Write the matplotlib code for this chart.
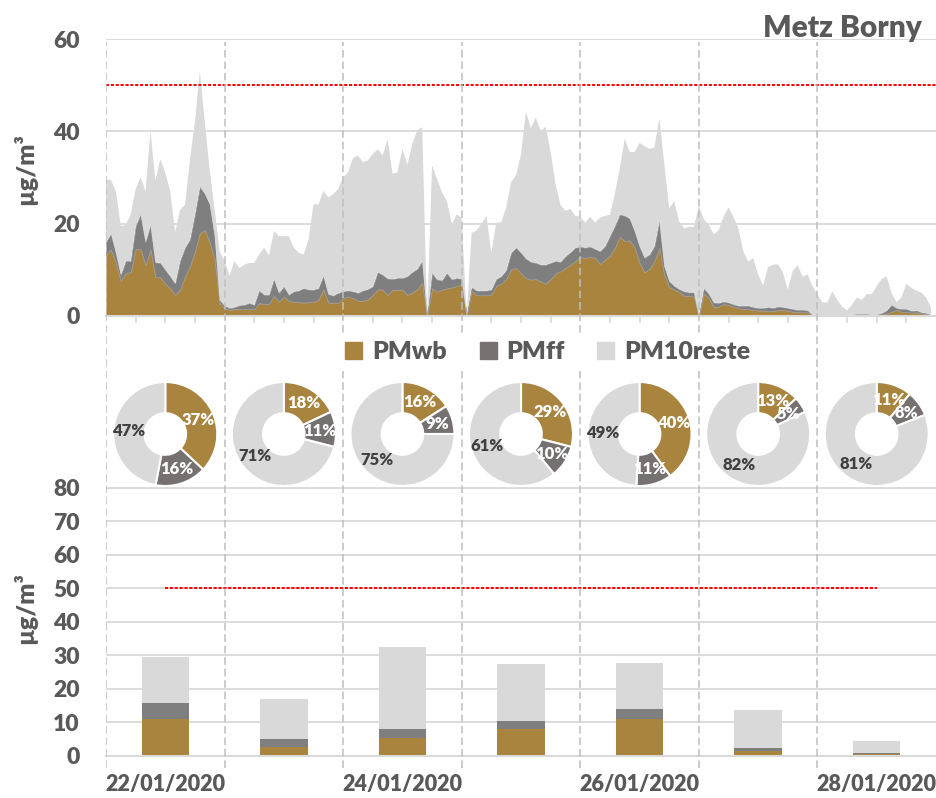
import numpy as np
import pandas as pd
import matplotlib
matplotlib.use("Agg")
import matplotlib.pyplot as plt
import matplotlib.dates as mdates
from matplotlib.patches import Patch

plt.rcParams['font.family'] = ['Lato', 'DejaVu Sans']
plt.rcParams['font.weight'] = 'heavy'
plt.rcParams['axes.labelweight'] = 'heavy'

# hourly concentrations (µg/m3), 22/01/2020 00h -> 28/01/2020 23h
pm_wb = [13.3, 14.4, 11.5, 7.6, 9.3, 9.5, 14.5, 14.5, 11.0, 14.5, 8.4, 8.4, 7.0, 6.0, 4.6, 5.8, 8.6, 10.8, 14.0, 18.0, 18.6, 15.9, 12.2, 2.8,
         1.7, 1.3, 1.5, 1.5, 1.5, 1.5, 1.5, 2.8, 2.6, 2.6, 4.4, 3.1, 4.2, 3.3, 3.1, 3.0, 2.9, 3.0, 3.1, 3.5, 5.8, 2.9, 2.9, 2.9,
         3.9, 4.2, 3.9, 3.3, 3.3, 3.6, 4.6, 5.8, 5.7, 4.6, 5.7, 5.7, 5.7, 4.6, 5.1, 5.8, 7.3, 0.0, 6.0, 5.3, 5.7, 6.0, 6.2, 6.5,
         7.0, 0.0, 5.5, 4.5, 4.5, 4.5, 4.7, 6.5, 7.0, 8.0, 10.2, 10.4, 9.3, 8.2, 7.9, 8.0, 7.5, 7.0, 8.0, 9.3, 9.7, 10.4, 11.1, 11.9,
         12.8, 12.6, 12.8, 12.6, 11.3, 12.2, 13.1, 14.8, 17.2, 16.2, 16.4, 14.8, 11.5, 9.5, 10.2, 11.9, 14.8, 8.9, 6.3, 5.7, 5.2, 4.4, 4.4, 4.2,
         0.0, 4.9, 3.9, 2.0, 2.0, 2.6, 2.4, 2.0, 1.7, 1.5, 1.5, 1.3, 1.2, 1.2, 1.1, 1.1, 1.3, 1.3, 1.2, 0.9, 0.9, 0.8, 0.8, 0.1,
         0.0, 0.0, 0.0, 0.0, 0.0, 0.0, 0.0, 0.0, 0.1, 0.1, 0.2, 0.1, 0.1, 0.2, 0.6, 0.9, 1.3, 0.9, 0.9, 0.7, 0.8, 0.6, 0.4, 0.1]

pm_ff = [2.7, 3.4, 2.2, 1.3, 2.6, 2.4, 5.0, 7.5, 5.0, 5.2, 3.2, 3.1, 3.0, 2.6, 2.4, 6.2, 6.2, 5.8, 8.0, 10.0, 7.9, 8.3, 5.1, 0.7,
         0.5, 0.4, 0.4, 0.8, 0.9, 1.3, 0.9, 2.7, 2.0, 2.0, 3.6, 1.9, 2.2, 1.3, 2.2, 2.5, 3.1, 2.7, 2.6, 2.5, 2.9, 1.8, 1.5, 2.1,
         1.4, 1.3, 1.4, 1.7, 2.2, 2.2, 1.8, 3.7, 3.2, 3.5, 2.3, 2.5, 2.5, 4.0, 4.4, 4.4, 4.6, 0.0, 3.3, 2.6, 2.0, 3.3, 1.7, 1.7,
         1.0, 0.0, 0.7, 1.0, 1.0, 1.0, 1.0, 1.5, 1.6, 1.9, 3.5, 4.4, 4.4, 4.2, 3.8, 3.5, 3.6, 4.1, 3.5, 2.6, 2.0, 2.5, 2.7, 2.9,
         2.2, 2.2, 2.2, 1.9, 2.7, 2.9, 4.2, 4.7, 4.8, 5.5, 4.7, 3.6, 3.6, 3.1, 3.1, 3.2, 5.8, 1.9, 1.2, 0.8, 0.6, 0.9, 0.7, 0.9,
         0.0, 1.1, 0.9, 0.9, 0.8, 0.5, 0.5, 0.5, 0.5, 0.7, 0.7, 0.6, 0.5, 0.5, 0.8, 0.6, 0.7, 0.6, 0.5, 0.6, 0.4, 0.5, 0.4, 0.1,
         0.1, 0.1, 0.1, 0.1, 0.1, 0.1, 0.2, 0.3, 0.3, 0.3, 0.2, 0.2, 0.2, 0.4, 0.6, 1.5, 0.4, 0.6, 0.6, 0.4, 0.4, 0.2, 0.2, 0.1]

pm_reste = [13.5, 11.7, 13.3, 10.6, 7.8, 10.1, 8.0, 8.0, 11.0, 20.3, 17.7, 22.5, 21.0, 18.4, 11.2, 11.0, 9.3, 17.4, 20.0, 25.0, 15.5, 7.3, 5.7, 10.5,
            9.8, 7.0, 10.0, 8.1, 8.7, 8.7, 9.1, 7.8, 10.2, 8.5, 10.4, 12.3, 10.9, 12.7, 9.5, 8.2, 7.3, 10.9, 18.5, 18.2, 18.4, 21.0, 22.0, 22.5,
            24.7, 25.6, 28.9, 29.8, 27.8, 27.9, 28.7, 26.6, 25.9, 30.2, 22.8, 22.9, 28.0, 24.1, 27.8, 30.0, 29.0, 0.0, 23.3, 21.8, 19.1, 15.6, 12.0, 13.8,
            13.3, 0.0, 11.8, 13.0, 14.5, 16.2, 8.0, 12.2, 11.7, 13.6, 15.3, 15.7, 21.3, 31.9, 29.0, 31.5, 28.9, 29.9, 24.0, 16.6, 12.3, 9.9, 9.4, 6.9,
            6.5, 5.4, 6.5, 5.7, 7.3, 6.6, 4.6, 7.0, 10.0, 16.7, 14.4, 17.1, 22.4, 24.2, 22.9, 21.4, 22.2, 22.2, 15.8, 18.4, 14.7, 13.7, 14.2, 14.2,
            23.8, 15.0, 15.0, 14.8, 15.7, 18.4, 20.6, 19.0, 16.8, 11.8, 9.6, 10.6, 7.3, 4.9, 8.7, 9.4, 9.2, 7.6, 4.0, 8.2, 9.7, 7.2, 7.8, 6.3,
            4.5, 2.9, 2.8, 5.2, 3.4, 1.9, 1.0, 2.1, 3.6, 3.1, 4.4, 4.4, 6.2, 7.4, 7.4, 2.6, 1.3, 2.5, 5.5, 5.0, 4.3, 4.3, 3.4, 1.5]

# daily means
day_wb = [11.0, 2.8, 5.5, 7.9, 10.9, 1.6, 0.5]
day_ff = [4.7, 2.2, 2.5, 2.6, 3.1, 0.8, 0.4]
day_reste = [13.9, 12.0, 24.6, 16.9, 13.8, 11.3, 3.7]

# daily shares (%)
pie_wb = [37, 18, 16, 29, 40, 13, 11]
pie_ff = [16, 11, 9, 10, 11, 5, 8]
pie_reste = [47, 71, 75, 61, 49, 82, 81]

limit = 50
labels = ['PMwb', 'PMff', 'PM10reste']

c_wb = '#A9843F'
c_ff = '#7F7F7F'
c_ff_pie = '#767171'
c_re = '#D9D9D9'
txt = '#595959'
grid_c = '#D9D9D9'

t0 = pd.Timestamp('2020-01-22')
hours = mdates.date2num(pd.date_range(t0, periods=168, freq='h'))
day_start = mdates.date2num(pd.date_range(t0, periods=7, freq='D'))
day_mid = mdates.date2num(pd.date_range(t0 + pd.Timedelta(hours=12), periods=7, freq='D'))
xlim = (mdates.date2num(t0), mdates.date2num(t0 + pd.Timedelta(days=7)))

fig = plt.figure(figsize=(9.36, 7.98), dpi=100)
L, W = 106 / 936, 830 / 936

# ---- top: hourly stacked areas
ax1 = fig.add_axes([L, 1 - 316 / 798, W, 277 / 798])
polys = ax1.stackplot(hours, pm_wb, pm_ff, pm_reste, colors=[c_wb, c_ff, c_re], lw=0)
polys[0].set_edgecolor('#C9AA72'); polys[0].set_linewidth(0.5)
polys[1].set_edgecolor('#999999'); polys[1].set_linewidth(0.5)
ax1.axhline(limit, color='red', lw=1.4, ls=(0, (1.6, 0.9)), zorder=3)
ax1.set_xlim(xlim)
ax1.set_ylim(0, 60)
ax1.set_yticks([0, 20, 40, 60])
ax1.xaxis.set_major_locator(mdates.HourLocator(byhour=[6, 12, 18]))
ax1.xaxis.set_major_formatter(plt.NullFormatter())
ax1.tick_params(axis='x', length=5, width=1.2, color=grid_c)
ax1.tick_params(axis='y', length=0, pad=19, labelsize=16.5, labelcolor=txt)
ax1.grid(axis='y', color=grid_c, lw=1.3)
ax1.set_axisbelow(True)
for s in ['top', 'right', 'left']:
    ax1.spines[s].set_visible(False)
ax1.spines['bottom'].set_color(grid_c)
ax1.spines['bottom'].set_linewidth(1.5)
ax1.spines['bottom'].set_zorder(4)
ax1.set_ylabel('µg/m³', fontsize=18, color=txt)
ax1.yaxis.set_label_coords(-0.083, 0.53)

# ---- bottom: daily stacked bars
ax2 = fig.add_axes([L, 1 - 756 / 798, W, 268.5 / 798])
bw = 0.4
ax2.bar(day_mid, day_wb, width=bw, color=c_wb)
ax2.bar(day_mid, day_ff, width=bw, bottom=day_wb, color=c_ff)
ax2.bar(day_mid, day_reste, width=bw, bottom=np.add(day_wb, day_ff), color=c_re)
ax2.plot([day_mid[0], day_mid[-1]], [limit, limit], color='red', lw=1.4, ls=(0, (1.6, 0.9)))
ax2.set_xlim(xlim)
ax2.set_ylim(0, 80)
ax2.set_yticks(range(0, 81, 10))
ax2.set_xticks(day_mid[::2])
ax2.xaxis.set_major_formatter(mdates.DateFormatter('%d/%m/%Y'))
ax2.tick_params(axis='x', length=0, pad=13, labelsize=15.5, labelcolor=txt)
ax2.tick_params(axis='y', length=0, pad=19, labelsize=16.5, labelcolor=txt)
ax2.grid(axis='y', color=grid_c, lw=1.3)
ax2.set_axisbelow(True)
for s in ['top', 'right', 'left']:
    ax2.spines[s].set_visible(False)
ax2.spines['bottom'].set_color(grid_c)
ax2.spines['bottom'].set_linewidth(1.5)
ax2.set_ylabel('µg/m³', fontsize=18, color=txt)
ax2.yaxis.set_label_coords(-0.083, 0.55)

# ---- day separators across the whole figure
ov = fig.add_axes([L, 1 - 768 / 798, W, 726 / 798], zorder=1)
ov.set_xlim(xlim)
ov.set_ylim(0, 1)
ov.vlines(day_start, 0, 1, color='#BFBFBF', lw=1.1, ls=(0, (5, 2.5)))
ov.axis('off')
ov.patch.set_alpha(0)

# ---- daily donuts
pw, ph = 104 / 936, 104 / 798
cy = 1 - 434 / 798
for i in range(7):
    cx = L + W * (i + 0.5) / 7
    ax = fig.add_axes([cx - pw / 2, cy - ph / 2, pw, ph], zorder=2)
    vals = [pie_wb[i], pie_ff[i], pie_reste[i]]
    wedges, texts, autot = ax.pie(vals, colors=[c_wb, c_ff_pie, c_re], startangle=90, counterclock=False,
                                  autopct=lambda p: f'{p:.0f}%', pctdistance=0.7,
                                  wedgeprops=dict(width=0.6, edgecolor='white', linewidth=1.5),
                                  textprops=dict(fontsize=12, weight='heavy'))
    for t, col in zip(autot, ['white', 'white', '#404040']):
        t.set_color(col)
    ax.set_xlim(-1, 1)
    ax.set_ylim(-1, 1)

# ---- legend and title
handles = [Patch(color=c) for c in [c_wb, c_ff_pie, c_re]]
leg = fig.legend(handles, labels, loc='center', bbox_to_anchor=(548 / 936, 1 - 352 / 798), ncol=3,
                 fontsize=18, handlelength=0.68, handletextpad=0.4, columnspacing=1.3,
                 frameon=True, facecolor='white', edgecolor='none', framealpha=1, borderpad=0.3)
for t in leg.get_texts():
    t.set_color(txt)
leg.set_zorder(10)

fig.text(922 / 936, 1 - 37 / 798, 'Metz Borny', ha='right', va='baseline', fontsize=21.5, color=txt)

fig.savefig('out.png', dpi=100)
